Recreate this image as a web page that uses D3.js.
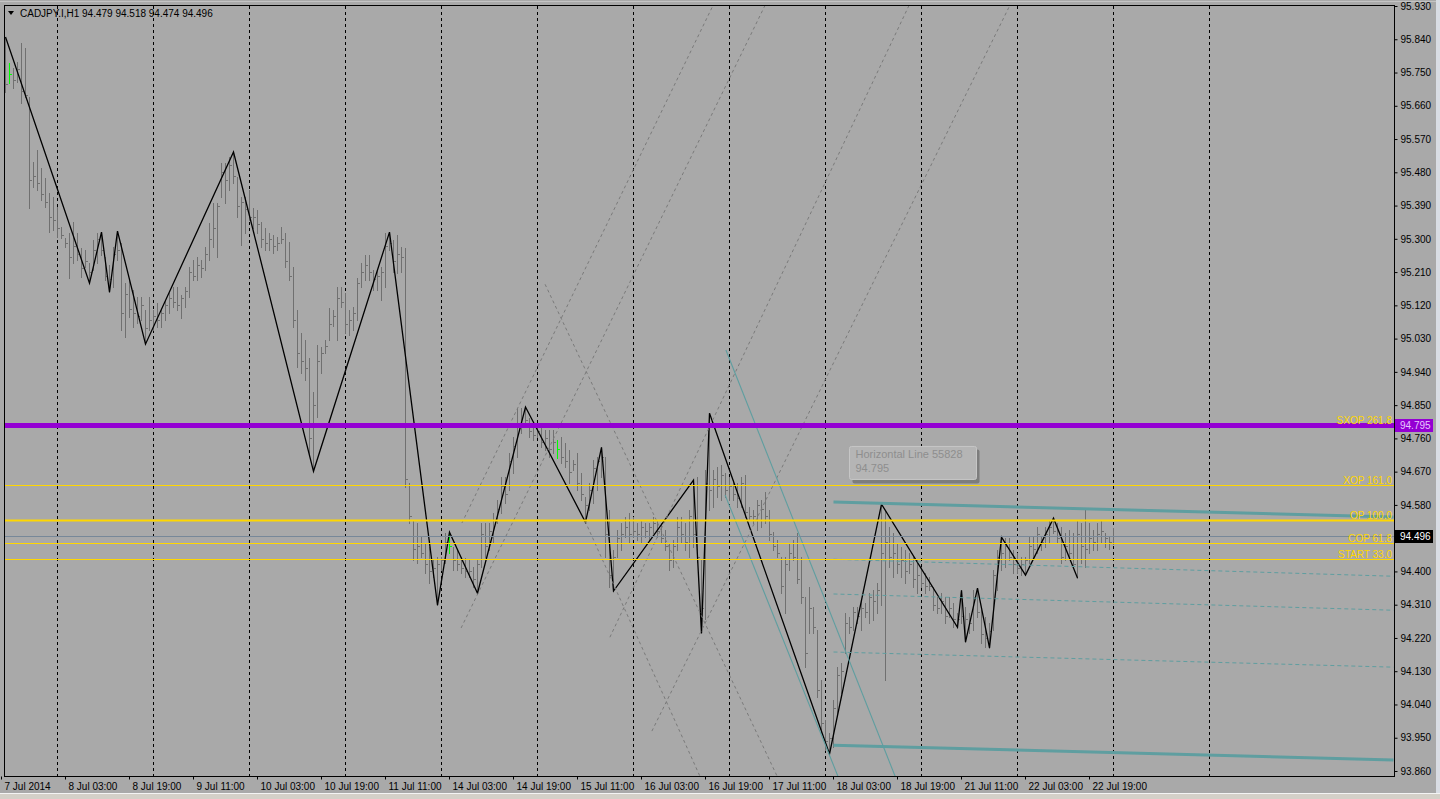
<!DOCTYPE html>
<html>
<head>
<meta charset="utf-8">
<script src="https://cdn.jsdelivr.net/npm/d3@7"></script>
<style>
  html, body { margin: 0; padding: 0; background: #a9a9a9; overflow: hidden; }
  svg { display: block; }
</style>
</head>
<body>
<svg id="chart" width="1440" height="799"></svg>
<script>
// ---- data ----
const symbolTitle = 'CADJPY.I,H1  94.479 94.518 94.474 94.496';

const highs = [
  95.846,95.776,95.762,95.778,95.830,95.816,95.683,95.508,95.540,95.491,
  95.464,95.424,95.413,95.386,95.332,95.302,95.315,95.345,95.315,95.275,
  95.270,95.234,95.297,95.315,95.318,95.250,95.229,95.278,95.321,95.288,
  95.180,95.188,95.161,95.142,95.142,95.107,95.142,95.107,95.126,95.107,
  95.134,95.153,95.169,95.169,95.148,95.169,95.223,95.242,95.250,95.242,
  95.278,95.343,95.397,95.397,95.505,95.505,95.521,95.535,95.467,95.413,
  95.413,95.432,95.383,95.378,95.345,95.329,95.315,95.310,95.305,95.332,
  95.315,95.291,95.223,95.107,95.045,95.026,94.977,94.885,95.012,95.007,
  95.026,95.113,95.107,95.169,95.169,95.153,95.107,95.115,95.194,95.234,
  95.256,95.256,95.215,95.215,95.223,95.315,95.318,95.297,95.310,95.278,
  95.275,94.639,94.539,94.531,94.493,94.477,94.466,94.431,94.439,94.439,
  94.504,94.506,94.466,94.458,94.439,94.436,94.431,94.412,94.431,94.531,
  94.531,94.531,94.558,94.593,94.655,94.655,94.720,94.763,94.842,94.842,
  94.845,94.815,94.801,94.801,94.801,94.782,94.782,94.782,94.755,94.763,
  94.747,94.728,94.701,94.720,94.666,94.601,94.639,94.701,94.709,94.736,
  94.709,94.566,94.458,94.512,94.531,94.547,94.558,94.547,94.531,94.539,
  94.531,94.531,94.547,94.539,94.531,94.512,94.477,94.485,94.547,94.547,
  94.531,94.566,94.647,94.655,94.431,94.674,94.828,94.674,94.682,94.688,
  94.666,94.655,94.647,94.639,94.655,94.661,94.574,94.566,94.593,94.593,
  94.615,94.566,94.506,94.485,94.439,94.439,94.477,94.485,94.504,94.439,
  94.331,94.358,94.303,94.241,94.106,93.998,93.962,94.052,94.141,94.152,
  94.287,94.276,94.303,94.303,94.322,94.314,94.341,94.349,94.368,94.582,
  94.566,94.520,94.504,94.477,94.466,94.458,94.450,94.439,94.431,94.412,
  94.396,94.385,94.358,94.331,94.341,94.331,94.331,94.314,94.287,94.349,
  94.303,94.287,94.349,94.355,94.295,94.276,94.260,94.404,94.458,94.493,
  94.490,94.490,94.458,94.450,94.439,94.439,94.493,94.493,94.520,94.493,
  94.520,94.539,94.544,94.531,94.520,94.504,94.512,94.504,94.539,94.531,
  94.566,94.531,94.512,94.531,94.539,94.504,94.493,94.518
];

const lows = [
  95.697,95.721,95.708,95.724,95.667,95.683,95.383,95.440,95.432,95.405,
  95.386,95.318,95.324,95.305,95.302,95.278,95.194,95.234,95.242,95.196,
  95.224,95.180,95.215,95.234,95.256,95.188,95.156,95.169,95.242,95.053,
  95.034,95.088,95.061,95.072,95.080,95.015,95.053,95.053,95.061,95.061,
  95.080,95.099,95.115,95.107,95.086,95.115,95.142,95.188,95.188,95.196,
  95.215,95.242,95.278,95.250,95.413,95.397,95.432,95.451,95.359,95.283,
  95.315,95.351,95.329,95.315,95.278,95.270,95.270,95.261,95.270,95.288,
  95.223,95.188,95.061,94.953,94.937,94.918,94.720,94.671,94.818,94.937,
  94.991,95.026,95.064,95.026,95.115,95.045,95.039,95.053,95.080,95.169,
  95.188,95.188,95.161,95.161,95.134,95.169,95.270,95.210,95.207,95.210,
  94.628,94.531,94.430,94.423,94.439,94.396,94.368,94.385,94.309,94.404,
  94.423,94.450,94.404,94.404,94.396,94.385,94.385,94.358,94.341,94.412,
  94.439,94.458,94.477,94.531,94.558,94.585,94.620,94.666,94.709,94.774,
  94.791,94.763,94.755,94.763,94.736,94.728,94.709,94.720,94.707,94.693,
  94.682,94.639,94.674,94.620,94.593,94.533,94.566,94.585,94.620,94.655,
  94.439,94.358,94.347,94.439,94.458,94.493,94.477,94.493,94.485,94.477,
  94.493,94.485,94.504,94.493,94.477,94.458,94.404,94.412,94.458,94.477,
  94.458,94.439,94.466,94.425,94.233,94.271,94.566,94.574,94.601,94.593,
  94.601,94.593,94.593,94.574,94.574,94.547,94.539,94.531,94.512,94.520,
  94.531,94.485,94.458,94.439,94.341,94.287,94.404,94.431,94.368,94.314,
  94.141,94.233,94.233,94.060,93.962,93.917,93.906,93.925,94.017,94.071,
  94.179,94.233,94.241,94.260,94.241,94.276,94.260,94.268,94.287,94.309,
  94.106,94.412,94.385,94.396,94.385,94.368,94.396,94.358,94.341,94.358,
  94.341,94.349,94.295,94.287,94.287,94.260,94.276,94.249,94.249,94.260,
  94.209,94.233,94.241,94.276,94.206,94.195,94.193,94.241,94.349,94.404,
  94.412,94.431,94.396,94.396,94.390,94.390,94.423,94.439,94.450,94.458,
  94.466,94.477,94.504,94.477,94.423,94.431,94.439,94.412,94.382,94.423,
  94.412,94.450,94.458,94.458,94.477,94.466,94.460,94.474
];

const closes = [
  95.72,95.745,95.73,95.76,95.70,95.69,95.46,95.47,95.45,95.42,
  95.40,95.36,95.35,95.33,95.31,95.29,95.25,95.28,95.26,95.22,
  95.24,95.21,95.27,95.30,95.27,95.20,95.19,95.26,95.27,95.10,
  95.15,95.11,95.10,95.09,95.12,95.06,95.08,95.09,95.08,95.10,
  95.12,95.14,95.13,95.12,95.14,95.16,95.21,95.20,95.23,95.22,
  95.26,95.30,95.33,95.39,95.48,95.46,95.50,95.47,95.39,95.40,
  95.38,95.36,95.36,95.34,95.30,95.29,95.30,95.28,95.29,95.30,
  95.24,95.20,95.08,94.99,94.97,94.95,94.76,94.85,94.97,94.99,
  95.01,95.07,95.09,95.14,95.13,95.07,95.08,95.10,95.18,95.21,
  95.23,95.21,95.19,95.20,95.21,95.28,95.29,95.24,95.26,95.25,
  94.65,94.55,94.46,94.47,94.45,94.42,94.40,94.41,94.42,94.43,
  94.48,94.47,94.43,94.42,94.41,94.40,94.40,94.38,94.42,94.50,
  94.47,94.51,94.54,94.57,94.63,94.61,94.70,94.74,94.80,94.79,
  94.81,94.78,94.77,94.78,94.75,94.76,94.73,94.75,94.73,94.71,
  94.70,94.67,94.69,94.64,94.61,94.58,94.62,94.68,94.70,94.71,
  94.50,94.39,94.44,94.49,94.50,94.52,94.50,94.51,94.50,94.52,
  94.51,94.52,94.53,94.51,94.49,94.47,94.43,94.47,94.52,94.50,
  94.48,94.55,94.50,94.44,94.30,94.64,94.62,94.65,94.63,94.66,
  94.62,94.63,94.61,94.60,94.64,94.56,94.55,94.55,94.58,94.57,
  94.55,94.50,94.47,94.45,94.36,94.42,94.45,94.44,94.38,94.33,
  94.18,94.30,94.25,94.08,93.99,93.94,93.95,94.03,94.12,94.13,
  94.26,94.25,94.29,94.28,94.30,94.29,94.33,94.32,94.35,94.45,
  94.48,94.44,94.45,94.42,94.43,94.40,94.42,94.38,94.39,94.37,
  94.36,94.36,94.31,94.30,94.32,94.28,94.30,94.27,94.27,94.28,
  94.27,94.26,94.33,94.29,94.23,94.22,94.24,94.39,94.44,94.45,
  94.47,94.44,94.42,94.41,94.42,94.43,94.47,94.46,94.50,94.48,
  94.50,94.52,94.51,94.49,94.44,94.47,94.45,94.42,94.50,94.47,
  94.46,94.49,94.48,94.50,94.51,94.49,94.479,94.496
];

const greenBars = [1, 111, 138];

// zigzag turning points: bar index and price
const zzIdx   = [0, 21, 24, 26, 28, 35, 57, 77, 96, 108, 111, 118, 130, 145, 149,
                 152, 172, 174, 176, 206, 219, 238, 239, 240, 243, 246, 249, 255, 262, 268];
const zzPrice = [95.846, 95.180, 95.318, 95.156, 95.321, 95.015, 95.535, 94.671, 95.318,
                 94.309, 94.506, 94.341, 94.845, 94.533, 94.736, 94.347, 94.647, 94.233,
                 94.828, 93.906, 94.582, 94.249, 94.349, 94.209, 94.355, 94.193, 94.493,
                 94.390, 94.544, 94.382];

const priceTicks = [95.93, 95.84, 95.75, 95.66, 95.57, 95.48, 95.39, 95.30, 95.21, 95.12,
                    95.03, 94.94, 94.85, 94.76, 94.67, 94.58, 94.49, 94.40, 94.31, 94.22,
                    94.13, 94.04, 93.95, 93.86];

const timeLabels = ['7 Jul 2014', '8 Jul 03:00', '8 Jul 19:00', '9 Jul 11:00', '10 Jul 03:00',
                    '10 Jul 19:00', '11 Jul 11:00', '14 Jul 03:00', '14 Jul 19:00', '15 Jul 11:00',
                    '16 Jul 03:00', '16 Jul 19:00', '17 Jul 11:00', '18 Jul 03:00', '18 Jul 19:00',
                    '21 Jul 11:00', '22 Jul 03:00', '22 Jul 19:00'];
const timeLabelIdx = [0, 16, 32, 48, 64, 80, 96, 112, 128, 144, 160, 176, 192, 208, 224, 240, 256, 272];
const gridIdx = [13, 37, 61, 85, 109, 133, 157, 181, 205, 229, 253, 277, 301];

// fibo-style levels
const levelNames  = ['SXOP 261.8', 'XOP 161.0', 'OP 100.0', 'COP 61.8', 'START 33.0'];
const levelPrices = [94.795, 94.634, 94.539, 94.477, 94.434];

const hLinePrice = 94.795;      // Horizontal Line 55828
const bidPrice = 94.496;

// channel (from bar 207 to right edge)
const channelIdx = [207, 347];
const channelSolid  = [[94.588, 94.547], [93.930, 93.890]];
const channelDashed = [[94.433, 94.387], [94.339, 94.295], [94.182, 94.141]];

// trend lines: [idx1, price1, idx2, price2]
const tealDiag = [[180.1, 94.999, 222.4, 93.846], [179.9, 94.607, 208.1, 93.846]];
const grayDiag = [
  [114.1, 94.531, 176.9, 95.932],
  [113.9, 94.247, 189.9, 95.932],
  [144.9, 94.536, 173.6, 93.846],
  [134.9, 95.177, 192.9, 93.846],
  [151.1, 94.222, 225.9, 95.932],
  [161.6, 93.968, 251.1, 95.932]
];

// ---- drawing ----
const FONT = '"Liberation Sans", Arial, sans-serif';
const W = 1440, H = 799;
const svg = d3.select('#chart');

svg.append('rect').attr('width', W).attr('height', H).attr('fill', '#a9a9a9');
// window frame bits
svg.append('line').attr('x1', 0).attr('x2', 1436).attr('y1', 1.5).attr('y2', 1.5)
  .attr('stroke', '#c4c4c4');
svg.append('rect').attr('x', 1436).attr('y', 0).attr('width', 4).attr('height', H).attr('fill', '#d9dde4');
svg.append('rect').attr('x', 0).attr('y', 793).attr('width', W).attr('height', 6).attr('fill', '#d4d0c8');
svg.append('line').attr('x1', 0).attr('x2', W).attr('y1', 793.5).attr('y2', 793.5).attr('stroke', '#f4f4f4');

const x = d3.scaleLinear().domain([0, 277]).range([5.5, 1113.5]);
const y = d3.scaleLinear().domain([93.86, 95.93]).range([771, 6]);

svg.append('defs').append('clipPath').attr('id', 'plot')
  .append('rect').attr('x', 5).attr('y', 6).attr('width', 1389).attr('height', 770);

const g = svg.append('g').attr('clip-path', 'url(#plot)');

// dashed vertical grid
g.append('g').selectAll('line')
  .data(gridIdx)
  .join('line')
  .attr('x1', d => x(d)).attr('x2', d => x(d))
  .attr('y1', 6).attr('y2', 776)
  .attr('stroke', '#000').attr('stroke-dasharray', '3,3')
  .attr('shape-rendering', 'crispEdges');

// OHLC bars
const bars = g.append('g').attr('shape-rendering', 'crispEdges');
const barData = highs.map((h, i) => ({ i, h, l: lows[i], c: closes[i] }));
bars.selectAll('line.hl')
  .data(barData)
  .join('line')
  .attr('class', 'hl')
  .attr('x1', d => x(d.i)).attr('x2', d => x(d.i))
  .attr('y1', d => Math.round(y(d.h))).attr('y2', d => Math.round(y(d.l)) + 1)
  .attr('stroke', d => greenBars.includes(d.i) ? '#00ff00' : '#707070');
bars.selectAll('line.cl')
  .data(barData)
  .join('line')
  .attr('class', 'cl')
  .attr('x1', d => x(d.i) + 0.5).attr('x2', d => x(d.i) + 2)
  .attr('y1', d => Math.round(y(d.c)) + 0.5).attr('y2', d => Math.round(y(d.c)) + 0.5)
  .attr('stroke', d => greenBars.includes(d.i) ? '#00ff00' : '#707070');

// zigzag
const zz = zzIdx.map((d, i) => [d, zzPrice[i]]);
g.append('path')
  .datum(zz)
  .attr('d', d3.line().x(d => x(d[0])).y(d => y(d[1])))
  .attr('fill', 'none').attr('stroke', '#000').attr('stroke-width', 1.3);

// gray dashed trend lines
g.append('g').selectAll('line')
  .data(grayDiag)
  .join('line')
  .attr('x1', d => x(d[0])).attr('y1', d => y(d[1]))
  .attr('x2', d => x(d[2])).attr('y2', d => y(d[3]))
  .attr('stroke', '#7a7a7a').attr('stroke-dasharray', '3,3');

// teal diagonals
g.append('g').selectAll('line')
  .data(tealDiag)
  .join('line')
  .attr('x1', d => x(d[0])).attr('y1', d => y(d[1]))
  .attr('x2', d => x(d[2])).attr('y2', d => y(d[3]))
  .attr('stroke', '#5f9ea0').attr('stroke-width', 1.1);

// channel
g.append('g').selectAll('line')
  .data(channelSolid)
  .join('line')
  .attr('x1', x(channelIdx[0])).attr('x2', x(channelIdx[1]))
  .attr('y1', d => y(d[0])).attr('y2', d => y(d[1]))
  .attr('stroke', '#5f9ea0').attr('stroke-width', 3);
g.append('g').selectAll('line')
  .data(channelDashed)
  .join('line')
  .attr('x1', x(channelIdx[0])).attr('x2', x(channelIdx[1]))
  .attr('y1', d => y(d[0])).attr('y2', d => y(d[1]))
  .attr('stroke', '#5f9ea0').attr('stroke-dasharray', '4,3');

// level lines
g.append('g').selectAll('line')
  .data(levelPrices)
  .join('line')
  .attr('x1', 5).attr('x2', 1394)
  .attr('y1', d => Math.round(y(d)) + 0.5).attr('y2', d => Math.round(y(d)) + 0.5)
  .attr('stroke', '#ffd700')
  .attr('stroke-width', (d, i) => levelNames[i].startsWith('OP ') ? 2 : 1);

// bid line
g.append('line')
  .attr('x1', 5).attr('x2', 1394)
  .attr('y1', Math.round(y(bidPrice)) + 0.5).attr('y2', Math.round(y(bidPrice)) + 0.5)
  .attr('stroke', '#778899');

// purple horizontal line
g.append('line')
  .attr('x1', 5).attr('x2', 1394)
  .attr('y1', y(hLinePrice)).attr('y2', y(hLinePrice))
  .attr('stroke', '#9400d3').attr('stroke-width', 5);

// level labels
g.append('g').selectAll('text')
  .data(levelNames)
  .join('text')
  .attr('x', 1392)
  .attr('y', (d, i) => Math.round(y(levelPrices[i])) - 1)
  .attr('text-anchor', 'end')
  .attr('font-family', FONT).attr('font-size', 10)
  .attr('fill', '#ffd700')
  .text(d => d);

// plot frame
svg.append('rect')
  .attr('x', 4.5).attr('y', 5.5).attr('width', 1390).attr('height', 771)
  .attr('fill', 'none').attr('stroke', '#000');

// price axis
const yAxis = svg.append('g')
  .attr('transform', 'translate(1394.5,0)')
  .call(d3.axisRight(y).tickValues(priceTicks).tickFormat(d3.format('.3f')).tickSize(3).tickPadding(3));
yAxis.select('.domain').remove();
yAxis.selectAll('text').attr('font-family', FONT).attr('font-size', 10).attr('fill', '#000');
yAxis.selectAll('line').attr('stroke', '#000');

// time axis
const xAxis = svg.append('g')
  .attr('transform', 'translate(0,776.5)')
  .call(d3.axisBottom(x).tickValues(timeLabelIdx).tickFormat((d, i) => timeLabels[i]).tickSize(3).tickPadding(3));
xAxis.select('.domain').remove();
xAxis.selectAll('text')
  .attr('font-family', FONT).attr('font-size', 10).attr('fill', '#000')
  .attr('text-anchor', 'start').attr('x', -1.5);
xAxis.selectAll('line').attr('stroke', '#000').attr('x1', -4.5).attr('x2', -4.5);

// price boxes on the axis
function priceBox(p, bg, fg) {
  const yy = Math.round(y(p));
  svg.append('rect').attr('x', 1395).attr('y', yy - 6).attr('width', 38).attr('height', 13).attr('fill', bg);
  svg.append('text').attr('x', 1400).attr('y', yy + 4)
    .attr('font-family', FONT).attr('font-size', 10).attr('fill', fg)
    .text(d3.format('.3f')(p));
}
priceBox(hLinePrice, '#9400d3', '#e6c8ff');
priceBox(bidPrice, '#000', '#fff');

// header
svg.append('path').attr('d', 'M8,11 L14,11 L11,15 Z').attr('fill', '#000');
svg.append('text').attr('x', 20).attr('y', 17)
  .attr('font-family', FONT).attr('font-size', 10).attr('fill', '#000')
  .text(symbolTitle);

// object tooltip
const tipX = x(211), tipY = y(hLinePrice) + 21;
svg.append('rect').attr('x', tipX + 3).attr('y', tipY + 3).attr('width', 127).attr('height', 34)
  .attr('fill', '#7d7d7d').attr('rx', 2);
svg.append('rect').attr('x', tipX).attr('y', tipY).attr('width', 127).attr('height', 33)
  .attr('fill', '#b5b5b5').attr('stroke', '#c6c6c6').attr('rx', 2);
svg.append('text').attr('x', tipX + 6).attr('y', tipY + 12)
  .attr('font-family', FONT).attr('font-size', 11).attr('fill', '#8e8e8e')
  .text('Horizontal Line 55828');
svg.append('text').attr('x', tipX + 6).attr('y', tipY + 26)
  .attr('font-family', FONT).attr('font-size', 11).attr('fill', '#8e8e8e')
  .text(d3.format('.3f')(hLinePrice));
</script>
</body>
</html>
